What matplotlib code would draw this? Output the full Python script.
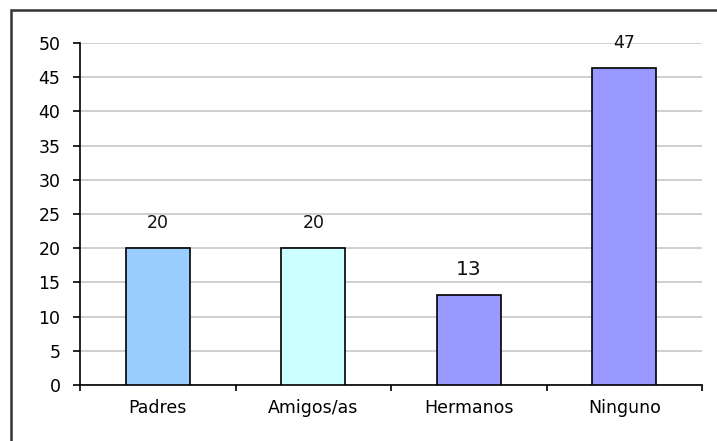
import numpy as np
from matplotlib import pyplot as plt
from matplotlib.patches import Rectangle
from matplotlib.ticker import MultipleLocator, FixedLocator

# datos
categorias = ['Padres', 'Amigos/as', 'Hermanos', 'Ninguno']
valores = [20, 20, 13.1, 46.3]
etiquetas = ['20', '20', '13', '47']
colores = ['#99CCFF', '#CCFFFF', '#9999FF', '#9999FF']

fig = plt.figure(figsize=(7.17, 4.41), dpi=100)
ax = fig.add_axes([80 / 717, 1 - 385 / 441, 622 / 717, 342 / 441])

# marco exterior (solo arriba/izquierda visibles)
fig.patches.append(Rectangle((11 / 717, -0.1), 1.2, 1 - 10 / 441 + 0.1,
                             transform=fig.transFigure, fill=False,
                             edgecolor='#333333', linewidth=1.8))

x = np.arange(len(categorias))
ax.bar(x, valores, width=0.41, color=colores, edgecolor='black', linewidth=1.2, zorder=3)

for xi, v, lab in zip(x, valores, etiquetas):
    fs = 14.5 if lab == '13' else 12.5
    ax.text(xi, v + 2.4, lab, ha='center', va='bottom', fontsize=fs, color='#111111')

ax.set_xlim(-0.5, len(categorias) - 0.5)
ax.set_ylim(0, 50)
ax.yaxis.set_major_locator(MultipleLocator(5))
ax.grid(axis='y', color='#c8c8c8', linewidth=1.2, zorder=0)
ax.set_axisbelow(True)

ax.set_xticks(x)
ax.set_xticklabels(categorias, fontsize=12.5)
ax.xaxis.set_minor_locator(FixedLocator(np.arange(-0.5, len(categorias), 1.0)))
ax.tick_params(axis='x', which='major', length=0, pad=10)
ax.tick_params(axis='x', which='minor', length=4, width=1.2, direction='out')
ax.tick_params(axis='y', length=5, width=1.2, direction='out', pad=9, labelsize=12.5)

for s in ['top', 'right']:
    ax.spines[s].set_visible(False)
for s in ['left', 'bottom']:
    ax.spines[s].set_linewidth(1.2)

plt.savefig('out.png', dpi=100)
